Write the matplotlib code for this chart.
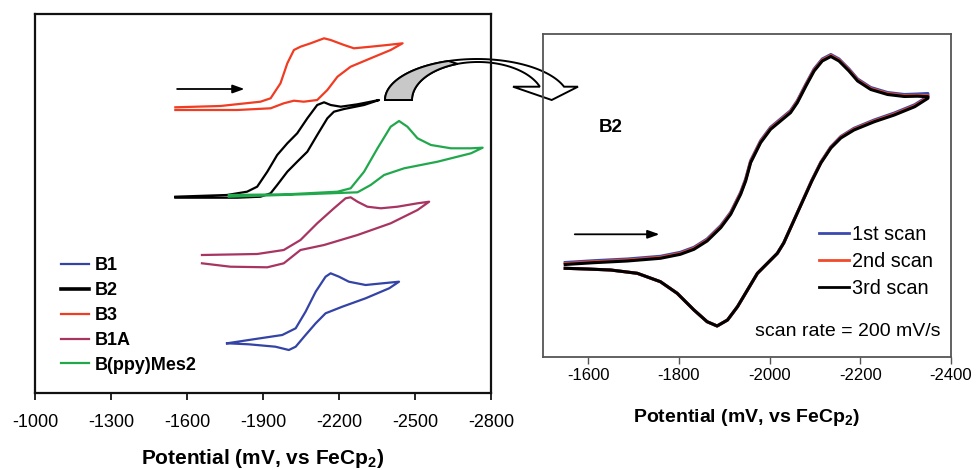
import numpy as np
import matplotlib
matplotlib.use("Agg")
import matplotlib.pyplot as plt
from matplotlib.patches import Polygon
from matplotlib.lines import Line2D

plt.rcParams['font.family'] = ['Liberation Sans', 'DejaVu Sans']
plt.rcParams['mathtext.fontset'] = 'custom'
plt.rcParams['mathtext.rm'] = 'Liberation Sans'
plt.rcParams['mathtext.bf'] = 'Liberation Sans:bold'

# ---------------- Left panel data (potential mV, current arb. units) -------------
b3_E = [-1554, -1732, -1890, -1930, -1969, -1996, -2022, -2048, -2088, -2141, -2167, -2220,
        -2259, -2325, -2391, -2451, -2404, -2325, -2246, -2194, -2154, -2114, -2061, -2022,
        -1982, -1930, -1798, -1554]
b3_I = [292.7, 294, 298.3, 301.7, 316.7, 336.7, 350, 353.3, 356.7, 361.7, 360, 355,
        351.7, 353.3, 355, 356.7, 350, 341.7, 333.3, 323.3, 310, 300, 298.3, 299.3,
        296.7, 291.7, 290, 290]

b2_E = [-1554, -1758, -1837, -1877, -1917, -1956, -1996, -2035, -2075, -2114, -2141, -2167,
        -2207, -2273, -2325, -2358, -2299, -2220, -2180, -2154, -2114, -2075, -2035, -1996,
        -1956, -1930, -1890, -1798, -1554]
b2_I = [203.3, 205, 208.3, 213.3, 228.3, 245, 256.7, 266.7, 281.7, 295, 297.7, 295,
        293.3, 295.7, 298.3, 300, 295, 291, 288.3, 281.7, 265, 248.3, 238.3, 228.3,
        215, 206.7, 203.3, 202.3, 202.3]

bppy_E = [-1765, -1996, -2194, -2246, -2299, -2352, -2404, -2437, -2470, -2510, -2563, -2642,
          -2721, -2767, -2721, -2589, -2457, -2378, -2325, -2273, -2061, -1765]
bppy_I = [205, 205.7, 208.3, 211.7, 228.3, 251.7, 273.3, 279, 273.3, 261.7, 255, 251.7,
          251.7, 252.3, 246.7, 238.3, 231.7, 225, 215, 207.7, 205.7, 203.3]

b1a_E = [-1659, -1877, -1982, -2048, -2114, -2180, -2226, -2246, -2273, -2312, -2365, -2431,
         -2510, -2556, -2510, -2404, -2273, -2141, -2048, -1982, -1917, -1771, -1659]
b1a_I = [145, 146, 150, 160, 176.7, 191.7, 201.7, 202.7, 198.3, 193.3, 191.7, 193.3,
         196.7, 198.3, 190, 176.7, 165, 155, 150, 136.7, 132.7, 133.3, 136.7]

b1_E = [-1758, -1870, -1976, -2029, -2068, -2108, -2147, -2167, -2200, -2239, -2305, -2372,
        -2437, -2398, -2305, -2213, -2147, -2108, -2068, -2029, -2002, -1949, -1844, -1758]
b1_I = [56.7, 61, 65, 71.7, 88.3, 108.3, 123.3, 126.7, 123.3, 118.3, 115, 116.7,
        118.3, 111.7, 101.7, 93.3, 86.7, 76.7, 65, 53.3, 50, 53.3, 55.7, 56.7]

left_labels = ['B1', 'B2', 'B3', 'B1A', 'B(ppy)Mes2']
left_colors = ['#3343a6', '#000000', '#f03c22', '#a83462', '#22a84c']
left_ticks = [-1000, -1300, -1600, -1900, -2200, -2500, -2800]

# ---------------- Right panel data (B2, three scans) ----------------
fwd_E = [-1549, -1612, -1686, -1759, -1803, -1833, -1862, -1892, -1914, -1936, -1947, -1958,
         -1980, -2002, -2024, -2046, -2061, -2080, -2098, -2116, -2135, -2153, -2175, -2194,
         -2223, -2260, -2297, -2326, -2349]
rev_E = [-2349, -2320, -2275, -2231, -2186, -2157, -2135, -2113, -2093, -2078, -2062, -2046,
         -2031, -2017, -1995, -1973, -1951, -1929, -1907, -1884, -1862, -1833, -1796, -1759,
         -1708, -1649, -1597, -1549]
scan1_fwd = [137.5, 139.3, 141, 143.7, 147.7, 152.7, 161, 174.3, 187.7, 207.7, 221, 239.3,
             259.3, 272.7, 281, 289.3, 299.3, 316, 331, 341, 345.5, 341, 331, 321,
             312.5, 307.5, 305.5, 306, 306.5]
scan2_fwd = [136.4, 138.2, 139.9, 142.6, 146.6, 151.6, 159.9, 173.2, 186.6, 206.6, 219.9, 238.2,
             258.2, 271.6, 279.9, 288.2, 298.2, 314.9, 329.9, 339.9, 344.4, 339.9, 329.9, 319.9,
             311.4, 306.4, 304.4, 304.7, 304.4]
scan3_fwd = [135.5, 137.3, 139, 141.7, 145.7, 150.7, 159, 172.3, 185.7, 205.7, 219, 237.3,
             257.3, 270.7, 279, 287.3, 297.3, 314, 329, 339, 343.5, 339, 329, 319,
             310.5, 305.5, 303.5, 303.8, 303.3]
scan1_rev = [303.5, 295.3, 287, 280.1, 271.7, 263.5, 253.2, 238, 219.8, 204.6, 188.4, 172.2,
             157.1, 146.8, 136.7, 126.7, 110, 93.3, 80, 74, 78.3, 90, 106.7, 118.3,
             126.7, 130, 131, 131.7]
scan2_rev = [302.5, 294.2, 285.9, 279.1, 270.8, 262.7, 252.6, 237.5, 219.4, 204.3, 188.2, 172.1,
             157, 146.7, 136.7, 126.7, 110, 93.3, 80, 74, 78.3, 90, 106.7, 118.3,
             126.7, 130, 131, 131.7]
scan3_rev = [301.7, 293.3, 285, 278.3, 270, 262, 252, 237, 219, 204, 188, 172,
             157, 146.7, 136.7, 126.7, 110, 93.3, 80, 74, 78.3, 90, 106.7, 118.3,
             126.7, 130, 131, 131.7]
scan_labels = ['1st scan', '2nd scan', '3rd scan']
scan_colors = ['#3a4aae', '#f04a2a', '#000000']
right_ticks = [-1600, -1800, -2000, -2200, -2400]

W, H = 978, 470
fig = plt.figure(figsize=(W / 100, H / 100), dpi=100)


def fx(px):
    return px / W


def fy(py):
    return 1 - py / H


# ---------------- Left axes ----------------
axL = fig.add_axes([fx(35), fy(393), (491 - 35) / W, (393 - 14) / H])
axL.set_facecolor('none')
series = [(b1_E, b1_I), (b2_E, b2_I), (b3_E, b3_I), (b1a_E, b1a_I), (bppy_E, bppy_I)]
draw_order = [1, 4, 2, 3, 0]
for i in draw_order:
    E, I = series[i]
    axL.plot(E, I, color=left_colors[i], lw=1.6, solid_joinstyle='round')
axL.set_xlim(-1000, -2800)
axL.set_ylim(7, 386)
axL.set_yticks([])
axL.set_xticks(left_ticks)
axL.set_xticklabels([str(t) for t in left_ticks])
axL.tick_params(axis='x', direction='out', length=5, width=1.2, pad=10, labelsize=13)
for s in axL.spines.values():
    s.set_linewidth(1.6)
    s.set_color('#111111')
axL.annotate('', xy=(-1838, 311), xytext=(-1550, 311),
             arrowprops=dict(arrowstyle='-|>,head_length=0.7,head_width=0.25', color='black', lw=1.3))
handles = [Line2D([], [], color=c, lw=(2.6 if c == '#000000' else 1.6)) for c in left_colors]
axL.legend(handles, left_labels, loc='upper left', bbox_to_anchor=(fx(61), fy(257)),
           bbox_transform=fig.transFigure, frameon=False, borderpad=0, borderaxespad=0,
           handlelength=1.55, handletextpad=0.3, labelspacing=0.44,
           prop={'weight': 'bold', 'size': 13})
fig.text(fx(263), fy(458), r'Potential (mV, vs FeCp$_\mathbf{2}$)', ha='center', va='center',
         fontsize=15, fontweight='bold')

# ---------------- Right axes ----------------
axR = fig.add_axes([fx(543), fy(357), (951 - 543) / W, (357 - 34) / H])
axR.set_facecolor('none')
scans = [(scan1_fwd, scan1_rev), (scan2_fwd, scan2_rev), (scan3_fwd, scan3_rev)]
for (f, r), c in zip(scans, scan_colors):
    axR.plot(fwd_E + rev_E, f + r, color=c, lw=2.2, solid_joinstyle='round')
axR.set_xlim(-1500, -2400)
axR.set_ylim(43, 366)
axR.set_yticks([])
axR.set_xticks(right_ticks)
axR.set_xticklabels([str(t) for t in right_ticks])
axR.tick_params(axis='x', direction='out', length=5, width=1.0, pad=3, labelsize=12,
                color='#555555')
for s in axR.spines.values():
    s.set_linewidth(1.3)
    s.set_color('#555555')
axR.annotate('', xy=(-1763, 165.7), xytext=(-1564, 165.7),
             arrowprops=dict(arrowstyle='-|>,head_length=0.7,head_width=0.25', color='black', lw=1.3))
axR.text(0.165, 0.71, 'B2', transform=axR.transAxes, fontsize=13.5, fontweight='bold',
         ha='center', va='center')
axR.text(0.975, 0.08, 'scan rate = 200 mV/s', transform=axR.transAxes, fontsize=14,
         ha='right', va='center')
handlesR = [Line2D([], [], color=c, lw=2.0) for c in scan_colors]
axR.legend(handlesR, scan_labels, loc='upper left', bbox_to_anchor=(fx(819), fy(225)),
           bbox_transform=fig.transFigure, frameon=False, borderpad=0, borderaxespad=0,
           handlelength=1.5, handletextpad=0.15, labelspacing=0.41, prop={'size': 14.3})
fig.text(fx(747), fy(417), r'Potential (mV, vs FeCp$_\mathbf{2}$)', ha='center', va='center',
         fontsize=14, fontweight='bold')

# ---------------- Curved block arrow between panels (decoration) ----------------
cx, cy = 477.0, 100.0
t_out = np.linspace(np.pi, np.arcsin(13.3 / 41.0), 80)
outer = np.c_[cx + 92 * np.cos(t_out), cy - 41 * np.sin(t_out)]
t_in = np.linspace(np.arcsin(13.3 / 38.0), np.pi, 80)
inner = np.c_[cx + 1 + 66 * np.cos(t_in), cy - 38 * np.sin(t_in)]
head = np.array([[outer[-1][0], 86.7], [578.0, 86.7], [551.7, 100.0], [513.0, 86.7],
                 [inner[0][0], 86.7]])
poly = np.vstack([outer, head, inner])
arrow_poly = Polygon(np.c_[poly[:, 0] / W, 1 - poly[:, 1] / H], closed=True,
                     transform=fig.transFigure, facecolor='white', edgecolor='black',
                     lw=1.4, zorder=-1)
fig.patches.append(arrow_poly)
tg = np.linspace(np.pi, np.radians(108), 40)
g_out = np.c_[cx + 92 * np.cos(tg), cy - 41 * np.sin(tg)]
g_in = np.c_[cx + 1 + 66 * np.cos(tg[::-1]), cy - 38 * np.sin(tg[::-1])]
gp = np.vstack([g_out, g_in])
gray_poly = Polygon(np.c_[gp[:, 0] / W, 1 - gp[:, 1] / H], closed=True,
                    transform=fig.transFigure, facecolor='#c8c8c8', edgecolor='black',
                    lw=1.4, zorder=-1)
fig.patches.append(gray_poly)

fig.savefig('out.png', dpi=100)
